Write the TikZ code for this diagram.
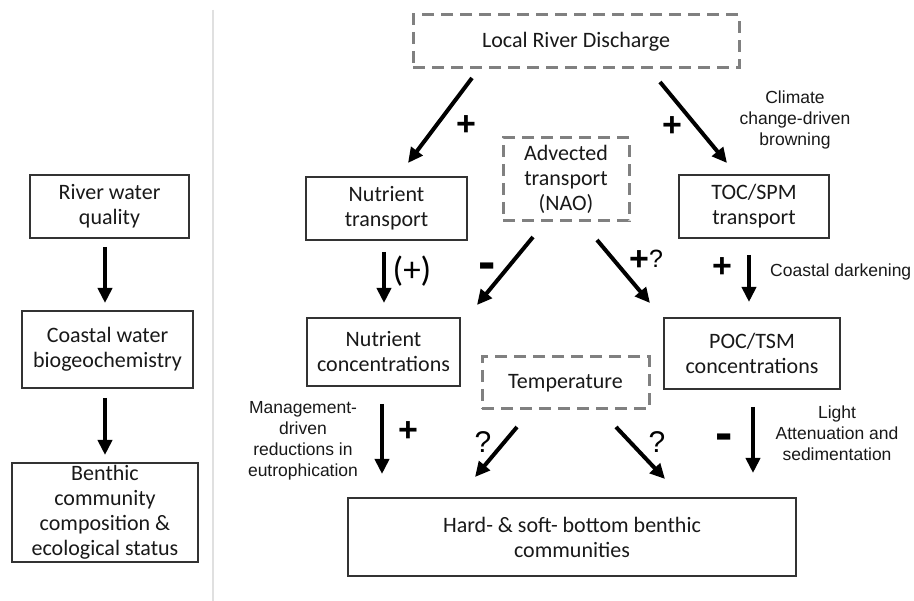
\documentclass[tikz,border=0pt]{standalone}
\usepackage{fontspec}
\setmainfont{Carlito}
\newfontfamily\arialf{Liberation Sans}
\usetikzlibrary{arrows.meta}
\begin{document}
\begin{tikzpicture}[x=1pt,y=-1pt,
  box/.style={draw=black!80, line width=1.3pt, align=center, text=black!90,
    font=\fontsize{22}{25}\selectfont, inner sep=0pt},
  dbox/.style={box, draw=black!50, line width=3pt, dash pattern=on 12pt off 7pt},
  arr/.style={line width=4pt, -{Triangle[width=14pt,length=15pt]}},
  lbl/.style={font=\arialf\fontsize{17.5}{21}\selectfont, align=center, inner sep=0pt, text=black!90},
  sgn/.style={font=\arialf\bfseries\fontsize{34}{34}\selectfont, inner sep=0pt},
  minus/.style={font=\arialf\bfseries\fontsize{52}{52}\selectfont, inner sep=0pt},
  qm/.style={font=\arialf\fontsize{30}{30}\selectfont, inner sep=0pt},
  pp/.style={font=\fontsize{35}{35}\selectfont, inner sep=0pt}
]
\useasboundingbox (0,0) rectangle (914,601);
\fill[white] (0,0) rectangle (914,601);
% separator
\draw[black!12, line width=2pt] (213,10) -- (213,601);

% left column
\node[box, minimum width=159pt, minimum height=63pt] (rwq) at (109.5,206.5) {River water\\quality};
\node[box, minimum width=171pt, minimum height=77pt] (cwb) at (107.5,349.5) {Coastal water\\biogeochemistry};
\node[box, minimum width=186pt, minimum height=99pt] (bcc) at (105,512.5) {Benthic\\community\\composition \&\\ecological status};
\coordinate (l1s) at (105,247); \coordinate (l1e) at (105,303);
\coordinate (l2s) at (105,398); \coordinate (l2e) at (105,455);
\draw[arr] (l1s) -- (l1e);
\draw[arr] (l2s) -- (l2e);

% right diagram boxes
\node[dbox, minimum width=326pt, minimum height=53pt] (lrd) at (576,41.5) {Local River Discharge};
\node[box, minimum width=161pt, minimum height=63pt] (nt) at (386.5,208.5) {Nutrient\\transport};
\node[dbox, minimum width=126pt, minimum height=83pt] (adv) at (566,179.5) {Advected\\transport\\(NAO)};
\node[box, minimum width=150pt, minimum height=63pt] (toc) at (754,206.5) {TOC/SPM\\transport};
\node[box, minimum width=153pt, minimum height=68pt] (nc) at (383.5,352) {Nutrient\\concentrations};
\node[dbox, minimum width=167pt, minimum height=52pt] (temp) at (565.5,383) {Temperature};
\node[box, minimum width=176pt, minimum height=71pt] (poc) at (752,353.5) {POC/TSM\\concentrations};
\node[box, minimum width=448pt, minimum height=78pt] (hard) at (572,537) {Hard- \& soft- bottom benthic\\communities};

% arrow end points
\coordinate (a1s) at (472,78);  \coordinate (a1e) at (408,163);
\coordinate (a2s) at (660,82);  \coordinate (a2e) at (727,163);
\coordinate (a3s) at (384,252); \coordinate (a3e) at (384,303);
\coordinate (a4s) at (533,237); \coordinate (a4e) at (477,305);
\coordinate (a5s) at (597,240); \coordinate (a5e) at (650,303);
\coordinate (a6s) at (749,255); \coordinate (a6e) at (749,302);
\coordinate (a7s) at (382,404); \coordinate (a7e) at (382,474);
\coordinate (a8s) at (517,427); \coordinate (a8e) at (475,477);
\coordinate (a9s) at (616,427); \coordinate (a9e) at (665,479);
\coordinate (a10s) at (753,407); \coordinate (a10e) at (753,473);
\draw[arr] (a1s) -- (a1e);
\draw[arr] (a2s) -- (a2e);
\draw[arr] (a3s) -- (a3e);
\draw[arr] (a4s) -- (a4e);
\draw[arr] (a5s) -- (a5e);
\draw[arr] (a6s) -- (a6e);
\draw[arr] (a7s) -- (a7e);
\draw[arr] (a8s) -- (a8e);
\draw[arr] (a9s) -- (a9e);
\draw[arr] (a10s) -- (a10e);

% signs
\node[sgn] (p1) at (466,126) {+};
\node[sgn] (p2) at (672,127) {+};
\node[pp] (p3) at (412,271) {(+)};
\node[minus] (m1) at (487,271) {-};
\node[sgn] (p4) at (639,261) {+};
\node[qm, font=\arialf\fontsize{25}{25}\selectfont] (q0) at (656,259) {?};
\node[sgn] (p5) at (722,268) {+};
\node[sgn] (p6) at (408,432) {+};
\node[qm] (q1) at (483,442) {?};
\node[qm] (q2) at (657,442) {?};
\node[minus] (m2) at (724,442) {-};

% labels
\node[lbl] (clim) at (795,120) {Climate\\change-driven\\browning};
\node[lbl, anchor=west] (cdark) at (770,272) {Coastal darkening};
\node[lbl] (mgmt) at (303,441) {Management-\\driven\\reductions in\\eutrophication};
\node[lbl] (light) at (837,433) {Light\\Attenuation and\\sedimentation};
\end{tikzpicture}
\end{document}
